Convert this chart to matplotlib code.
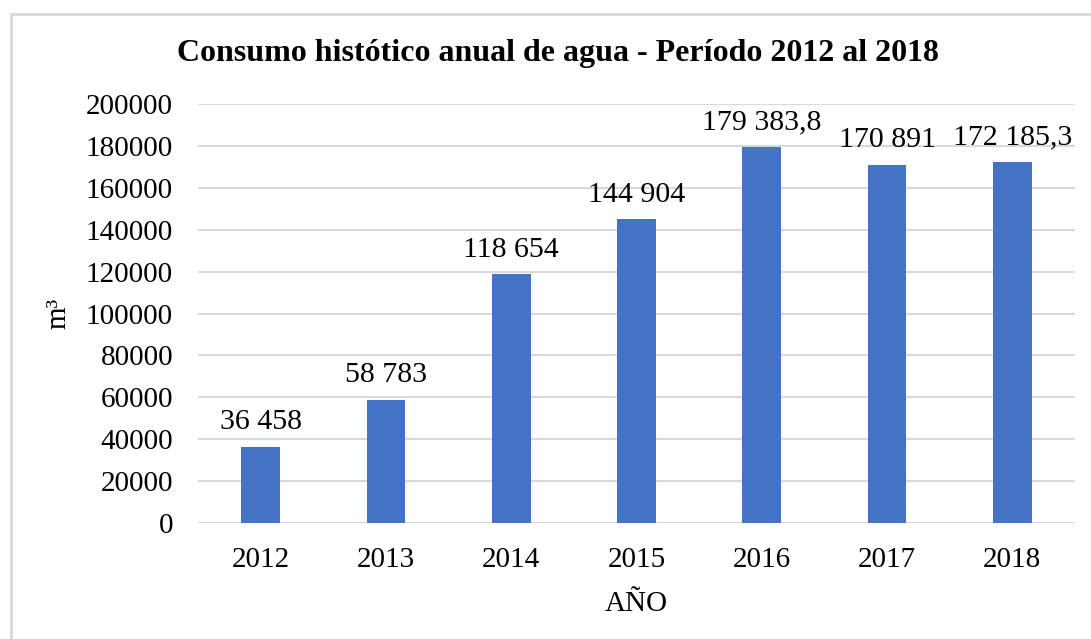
import matplotlib.pyplot as plt
from matplotlib.patches import Rectangle

# Datos
anios = ['2012', '2013', '2014', '2015', '2016', '2017', '2018']
consumo = [36458, 58783, 118654, 144904, 179383.8, 170891, 172185.3]
etiquetas = ['36 458', '58 783', '118 654', '144 904', '179 383,8', '170 891', '172 185,3']
ticks_y = [0, 20000, 40000, 60000, 80000, 100000, 120000, 140000, 160000, 180000, 200000]

plt.rcParams['font.family'] = ['Liberation Serif', 'DejaVu Serif']

fig = plt.figure(figsize=(10.91, 6.39), dpi=100)
ax = fig.add_axes([198/1091, 1 - 523/639, (1075 - 198)/1091, (523 - 104)/639])

# marco exterior del gráfico
fig.patches.append(Rectangle((11/1091, -0.05), 1.2, 1 - 14/639 + 0.05, transform=fig.transFigure,
                             fill=False, edgecolor='#D9D9D9', linewidth=2))

x = range(len(anios))
ax.bar(x, consumo, width=0.31, color='#4472C4', zorder=3)

for i, v in enumerate(consumo):
    ax.text(i, v + 5500, etiquetas[i], ha='center', va='bottom', fontsize=21.5)

ax.set_xlim(-0.5, len(anios) - 0.5)
ax.set_ylim(0, 200000)
ax.set_yticks(ticks_y)
ax.set_yticklabels([str(t) for t in ticks_y])
ax.set_xticks(list(x))
ax.set_xticklabels(anios)
ax.tick_params(axis='both', length=0, labelsize=21)
ax.tick_params(axis='y', pad=18)
ax.tick_params(axis='x', pad=17)
ax.grid(axis='y', color='#D9D9D9', linewidth=1.5, zorder=0)
for s in ax.spines.values():
    s.set_visible(False)

ax.set_xlabel('AÑO', fontsize=21, labelpad=13)
ax.set_ylabel('m³', fontsize=21, labelpad=10)
fig.text(558/1091, 1 - 54/639, 'Consumo histótico anual de agua - Período 2012 al 2018',
         ha='center', va='center', fontsize=23, fontweight='bold')

fig.savefig('out.png', dpi=100)
